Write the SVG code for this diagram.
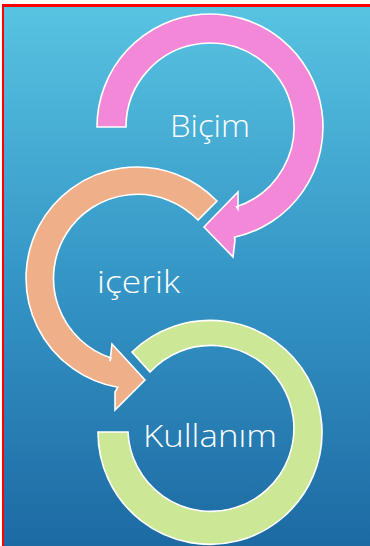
<svg xmlns="http://www.w3.org/2000/svg" width="370" height="546" viewBox="0 0 370 546">
  <defs>
    <linearGradient id="bg" x1="0" y1="0" x2="0" y2="1">
      <stop offset="0" stop-color="#58C3E1"/>
      <stop offset="0.5" stop-color="#3596C6"/>
      <stop offset="1" stop-color="#1D6AA3"/>
    </linearGradient>
  </defs>
  <style>
    .arrow { stroke: #FFFFFF; stroke-width: 1.6; stroke-linejoin: miter; }
    .label { fill: #FFFFFF; font-family: "Open Sans", "Liberation Sans", sans-serif; font-weight: 300; font-size: 31px; }
  </style>
  <rect x="0" y="0" width="370" height="546" fill="#FFFFFF"/>
  <rect x="2" y="4" width="368" height="542" fill="#FF0000"/>
  <rect x="4" y="7" width="366" height="539" fill="url(#bg)"/>

  <g id="connectors">
    <path id="pink-arrow" class="arrow" fill="#F388D8" d="M 97 127 A 113 113 0 1 1 234.5 237.3 L 235 240 L 233 257 L 204 227 L 238 192 L 238 209 L 236.5 206.7 A 84 84 0 1 0 126 127 Z"/>
    <path id="orange-arrow" class="arrow" fill="#EFB089" d="M 217 201 A 111 111 0 1 0 117.7 387.3 L 115 392 L 115 410 L 145 380 L 112 344 L 110 361 L 111 358 A 84 84 0 1 1 198 220 Z"/>
    <path id="green-arc" class="arrow" fill="#CCE897" d="M 132 352 A 112 112 0 1 1 98 432 L 128 432 A 83 83 0 1 0 150 372 Z"/>
  </g>

  <g id="node-bicim">
    <text class="label" x="170" y="137" textLength="80" lengthAdjust="spacingAndGlyphs">Biçim</text>
  </g>
  <g id="node-icerik">
    <text class="label" x="97" y="293" textLength="83" lengthAdjust="spacingAndGlyphs">içerik</text>
  </g>
  <g id="node-kullanim">
    <text class="label" x="143" y="447" textLength="134" lengthAdjust="spacingAndGlyphs">Kullanım</text>
  </g>
</svg>
